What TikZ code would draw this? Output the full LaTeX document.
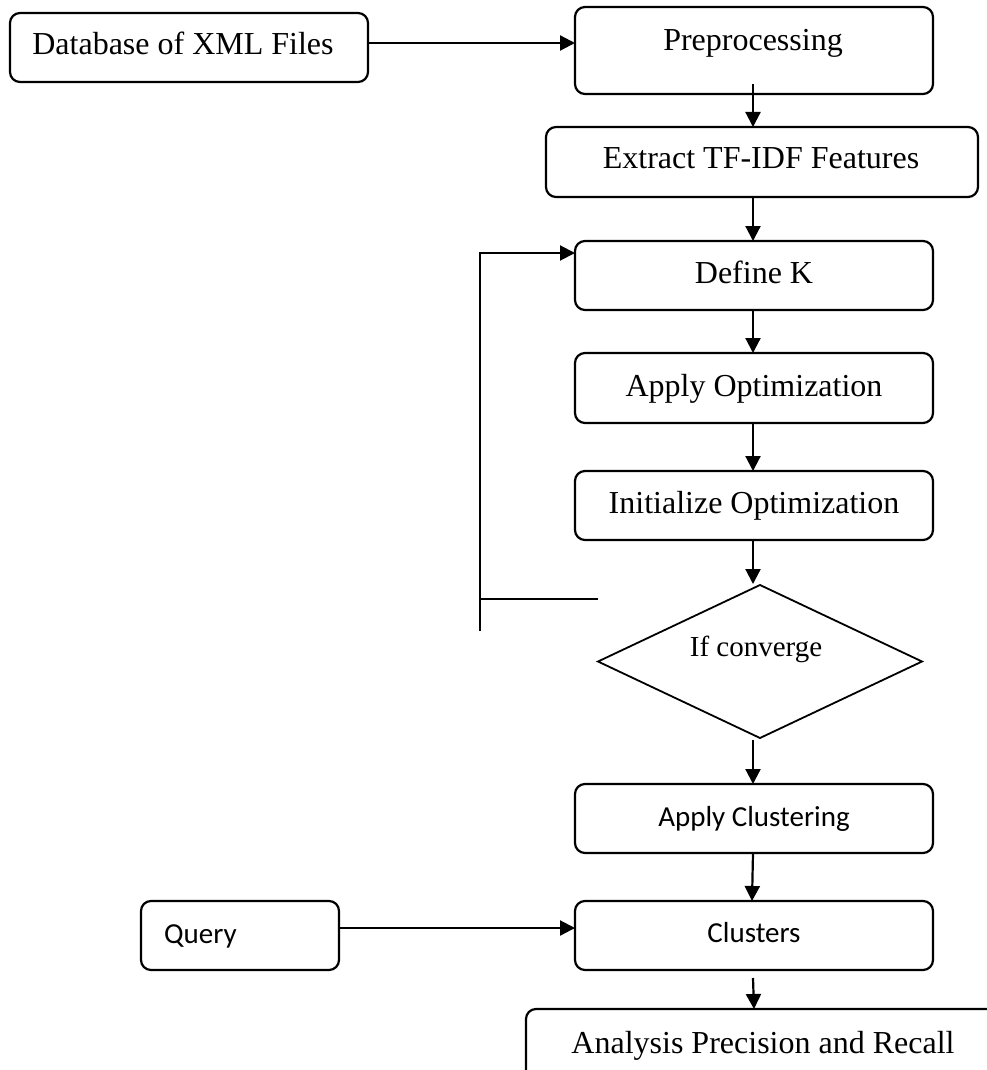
\documentclass[tikz,border=0pt]{standalone}
\usepackage{fontspec}
\setmainfont{Liberation Serif}
\newfontfamily\calibrifont{Carlito}
\usetikzlibrary{arrows.meta,shapes.geometric}
\tikzset{
  box/.style={draw, rectangle, rounded corners=10pt, line width=2.2pt, inner sep=0pt, outer sep=0pt},
  dia/.style={draw, diamond, line width=1.8pt, inner sep=0pt, outer sep=0pt},
  thin line/.style={line width=1.8pt},
  arr/.style={line width=2.2pt, -{Triangle[length=15pt,width=15pt]}},
  serif txt/.style={font=\fontsize{32}{38}\selectfont, inner sep=0pt, anchor=base},
  cal txt/.style={font=\calibrifont\fontsize{29}{35}\selectfont, inner sep=0pt, anchor=base}
}
\begin{document}
\begin{tikzpicture}[x=1pt,y=-1pt]
\useasboundingbox (0,0) rectangle (987,1070);
\clip (0,0) rectangle (987,1070);
% boxes
\node[box, minimum width=358pt, minimum height=69pt] (db) at (189,47.5) {};
\node[box, minimum width=358pt, minimum height=87pt] (pre) at (754,50.5) {};
\node[box, minimum width=432pt, minimum height=70pt] (ext) at (762,162) {};
\node[box, minimum width=358pt, minimum height=69pt] (defk) at (754,275.5) {};
\node[box, minimum width=358pt, minimum height=70pt] (aopt) at (754,388) {};
\node[box, minimum width=358pt, minimum height=69pt] (init) at (754,505.5) {};
\node[dia, minimum width=324pt, minimum height=153pt] (cond) at (760,661.5) {};
\node[box, minimum width=358pt, minimum height=69pt] (aclu) at (754,818.5) {};
\node[box, minimum width=358pt, minimum height=69pt] (clu) at (754,935.5) {};
\node[box, minimum width=198pt, minimum height=69pt] (query) at (240,935.5) {};
\node[box, minimum width=474pt, minimum height=91pt] (anal) at (763,1054.5) {};
% texts
\node[serif txt] (tdb) at (183,55) {Database of XML Files};
\node[serif txt] (tpre) at (753,51) {Preprocessing};
\node[serif txt] (text) at (761,168) {Extract TF-IDF Features};
\node[serif txt] (tdefk) at (754,283) {Define K};
\node[serif txt] (taopt) at (754,396) {Apply Optimization};
\node[serif txt] (tinit) at (754,513) {Initialize Optimization};
\node[serif txt, font=\fontsize{29}{35}\selectfont] (tcond) at (756,656) {If converge};
\node[cal txt] (taclu) at (754,826) {Apply Clustering};
\node[cal txt] (tclu) at (754,942) {Clusters};
\node[cal txt, anchor=base west] (tquery) at (164,943) {Query};
\node[serif txt] (tanal) at (763,1053) {Analysis Precision and Recall};
% feedback coordinates
\coordinate (fbr) at (598,599);
\coordinate (fbl) at (480,599);
\coordinate (fbbot) at (480,631);
\coordinate (fbtop) at (480,253);
% connectors
\draw[arr] ([yshift=4.5pt]db.east) -- ([yshift=7.5pt]pre.west);
\draw[arr] ([xshift=-1pt,yshift=10pt]pre.south) -- ([xshift=-9pt]ext.north);
\draw[arr] ([xshift=-9pt]ext.south) -- ([xshift=-1pt]defk.north);
\draw[arr] ([xshift=-1pt]defk.south) -- ([xshift=-1pt]aopt.north);
\draw[arr] ([xshift=-1pt]aopt.south) -- ([xshift=-1pt]init.north);
\draw[arr] ([xshift=-1pt]init.south) -- ([xshift=-7pt,yshift=1pt]cond.north);
\draw[arr] ([xshift=-7pt,yshift=-2pt]cond.south) -- ([xshift=-1pt]aclu.north);
\draw[arr] ([xshift=-1pt]aclu.south) -- ([xshift=-2pt]clu.north);
\draw[arr] ([xshift=-1pt,yshift=-8pt]clu.south) -- ([xshift=-9pt]anal.north);
\draw[arr] ([yshift=7.5pt]query.east) -- ([yshift=7.5pt]clu.west);
\draw[thin line] (fbr) -- (fbl);
\draw[arr, line width=2pt] (fbbot) -- (fbtop) -- ([yshift=22.5pt]defk.west);
\end{tikzpicture}
\end{document}
